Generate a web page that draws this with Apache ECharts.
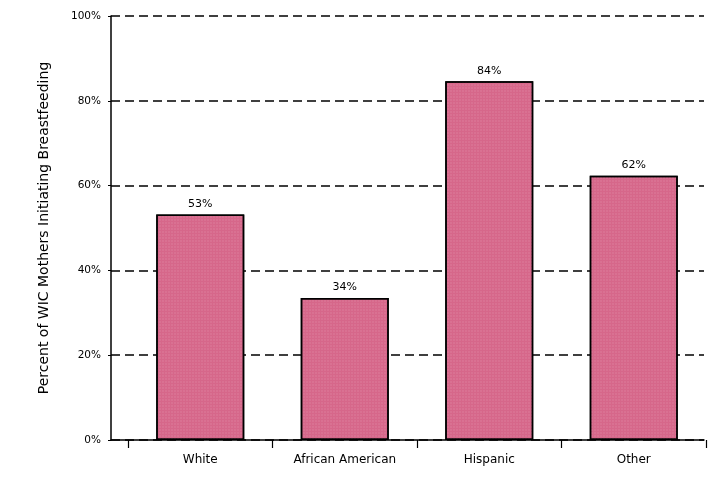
<!DOCTYPE html>
<html>
<head>
<meta charset="utf-8">
<script src="https://cdn.jsdelivr.net/npm/echarts@6/dist/echarts.min.js"></script>
<style>
html,body{margin:0;padding:0;background:#fff;}
#chart{width:718px;height:481px;}
</style>
</head>
<body>
<div id="chart"></div>
<script>
const categories = ['White', 'African American', 'Hispanic', 'Other'];
const values = [53.2, 33.5, 84.6, 62.3];
const valueLabels = ['53%', '34%', '84%', '62%'];
const yTicks = [0, 20, 40, 60, 80, 100];
const yTitle = 'Percent of WIC Mothers Initiating Breastfeeding';

const chart = echarts.init(document.getElementById('chart'), null, {renderer: 'canvas'});
const font = 'DejaVu Sans, Verdana, sans-serif';
const option = {
  animation: false,
  backgroundColor: '#ffffff',
  grid: [
    {left: 111, right: 14, top: 16, bottom: 41},
    {left: 128, right: 12, top: 16, bottom: 41}
  ],
  xAxis: [
    {gridIndex: 0, type: 'category', data: categories,
     axisLine: {show: true, lineStyle: {color: '#000', width: 1.5}},
     axisTick: {show: false}, axisLabel: {show: false}, splitLine: {show: false}},
    {gridIndex: 1, type: 'category', data: categories,
     axisLine: {show: false},
     axisTick: {show: true, length: 8, alignWithLabel: false, lineStyle: {color: '#000', width: 1.2}},
     axisLabel: {show: true, color: '#000', fontSize: 12, fontFamily: font, margin: 14}}
  ],
  yAxis: [
    {gridIndex: 0, type: 'value', min: yTicks[0], max: yTicks[yTicks.length - 1], interval: 20,
     name: yTitle, nameLocation: 'middle', nameGap: 60, nameRotate: 90,
     nameTextStyle: {color: '#000', fontSize: 14, fontFamily: font},
     axisLine: {show: true, lineStyle: {color: '#000', width: 1.5}},
     axisTick: {show: true, length: 3, lineStyle: {color: '#000'}},
     axisLabel: {formatter: '{value}%', color: '#000', fontSize: 10.5, fontFamily: font, margin: 10},
     splitLine: {show: true, lineStyle: {color: '#000', width: 1.5, type: [9, 5]}}},
    {gridIndex: 1, type: 'value', min: 0, max: 100, show: false, splitLine: {show: false}}
  ],
  series: [{
    type: 'bar', xAxisIndex: 1, yAxisIndex: 1,
    data: values, barWidth: 88,
    itemStyle: {color: '#d6678a', borderColor: '#000', borderWidth: 1.5,
      decal: {symbol: 'rect', symbolSize: 0.5, color: 'rgba(255,220,230,0.35)', dashArrayX: [2, 1], dashArrayY: [2, 1], rotation: 0}},
    label: {show: true, position: 'top', distance: 5, color: '#000', fontSize: 11, fontFamily: font,
      formatter: p => valueLabels[p.dataIndex]}
  }]
};
chart.setOption(option);
</script>
</body>
</html>
